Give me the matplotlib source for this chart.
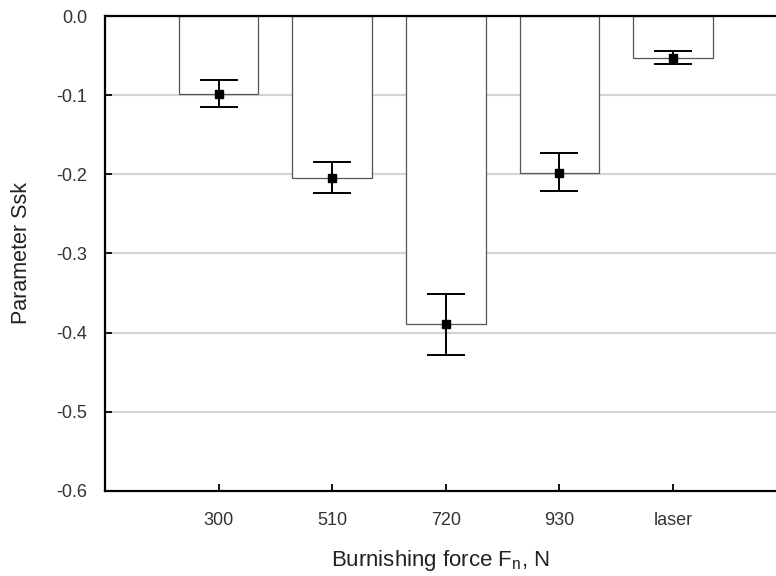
import matplotlib
matplotlib.use("Agg")
import matplotlib.pyplot as plt
import numpy as np

plt.rcParams['font.family'] = ['Liberation Sans', 'DejaVu Sans']

# Ssk per burnishing force (mean, lower / upper error)
categories = ['300', '510', '720', '930', 'laser']
ssk_mean = [-0.099, -0.204, -0.389, -0.198, -0.053]
err_low = [0.016, 0.020, 0.039, 0.023, 0.008]
err_high = [0.018, 0.020, 0.038, 0.025, 0.009]
y_ticks = [0.0, -0.1, -0.2, -0.3, -0.4, -0.5, -0.6]

fig = plt.figure(figsize=(7.76, 5.76), dpi=100)
ax = fig.add_axes([0.1353, 0.1476, 0.8647, 0.8246])

x = np.arange(1, len(categories) + 1)

for yv in y_ticks[1:-1]:
    ax.axhline(yv, color='#d4d4d4', lw=1.6, zorder=0)

ax.bar(x, ssk_mean, width=0.70, color='white', edgecolor='#555555',
       linewidth=0.9, zorder=2)
ax.errorbar(x, ssk_mean, yerr=[err_low, err_high], fmt='s', color='black',
            ms=6, elinewidth=1.4, capsize=14, capthick=1.4, zorder=3)

ax.set_xlim(0, 5.907)
ax.set_ylim(-0.6, 0.0)
ax.set_xticks(x)
ax.set_xticklabels(categories)
ax.set_yticks(y_ticks)
ax.set_yticklabels([f'{v:.1f}' for v in y_ticks])

ax.spines['right'].set_visible(False)
for s in ('left', 'bottom', 'top'):
    ax.spines[s].set_linewidth(1.6)
    ax.spines[s].set_zorder(4)

ax.tick_params(axis='x', direction='in', length=5, width=1.3, top=True,
               labelsize=13, pad=15, colors='black', labelcolor='#333333')
ax.tick_params(axis='y', direction='in', length=5, width=1.3,
               labelsize=13, pad=13, labelcolor='#333333')

ax.set_xlabel('Burnishing force F$_\\mathregular{n}$, N', fontsize=16,
              labelpad=14, color='#222222')
ax.set_ylabel('Parameter Ssk', fontsize=15.5, labelpad=17, color='#222222')

fig.savefig('out.png', dpi=100)
